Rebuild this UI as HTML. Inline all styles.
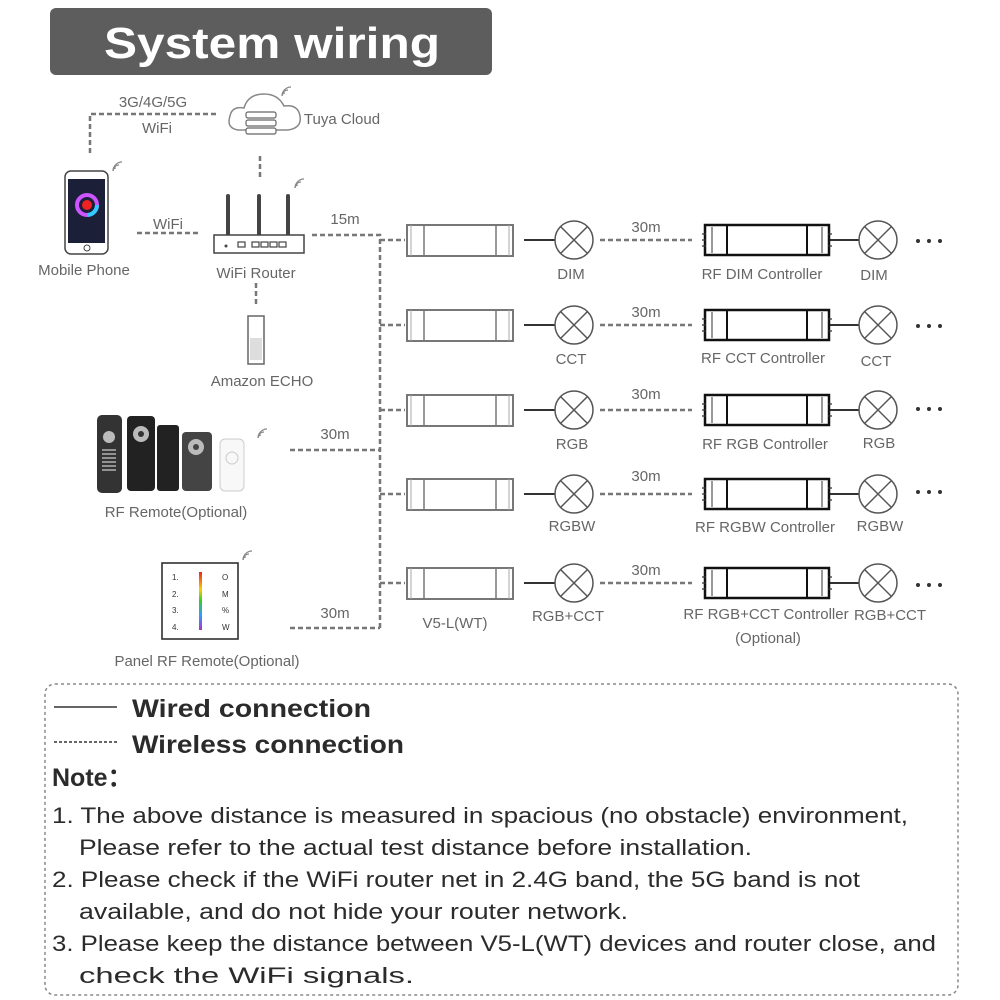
<!DOCTYPE html>
<html><head><meta charset="utf-8"><style>
body{margin:0;background:#fff;width:1000px;height:1000px;overflow:hidden}
svg{display:block}
</style></head><body>
<svg width="1000" height="1000" viewBox="0 0 1000 1000" xmlns="http://www.w3.org/2000/svg" font-family="Liberation Sans, sans-serif">
<defs>
<g id="v5">
 <rect x="0" y="-15" width="106" height="31" fill="#fff" stroke="#777" stroke-width="2"/>
 <line x1="17" y1="-15" x2="17" y2="16" stroke="#777" stroke-width="1.5"/>
 <line x1="89" y1="-15" x2="89" y2="16" stroke="#777" stroke-width="1.5"/>
 <line x1="4" y1="-15" x2="4" y2="16" stroke="#aaa" stroke-width="1"/>
 <line x1="102" y1="-15" x2="102" y2="16" stroke="#aaa" stroke-width="1"/>
</g>
<g id="lamp">
 <circle cx="0" cy="0" r="19" fill="#fff" stroke="#555" stroke-width="1.5"/>
 <line x1="-13" y1="-13" x2="13" y2="13" stroke="#555" stroke-width="1.5"/>
 <line x1="13" y1="-13" x2="-13" y2="13" stroke="#555" stroke-width="1.5"/>
</g>
<g id="rf">
 <rect x="0" y="-15" width="124" height="30" fill="#fff" stroke="#111" stroke-width="2.5"/>
 <line x1="22" y1="-15" x2="22" y2="15" stroke="#111" stroke-width="2"/>
 <line x1="102" y1="-15" x2="102" y2="15" stroke="#111" stroke-width="2"/>
 <line x1="7" y1="-13" x2="7" y2="13" stroke="#333" stroke-width="1"/>
 <line x1="117" y1="-13" x2="117" y2="13" stroke="#333" stroke-width="1"/>
 <path d="M-3 -6 h4 M-3 0 h4 M-3 6 h4 M123 -6 h4 M123 6 h4" stroke="#333" stroke-width="1.2"/>
</g>
<g id="sig" fill="none" stroke="#888" stroke-width="1.2">
 <path d="M0 8 a3 3 0 0 1 3 -3"/><path d="M0 8 a6 6 0 0 1 6 -6"/><path d="M0 8 a9 9 0 0 1 9 -9"/>
</g>
</defs>

<rect x="50" y="8" width="442" height="67" rx="6" fill="#5d5d5d"/>
<text x="104" y="58" textLength="336" lengthAdjust="spacingAndGlyphs" font-size="44" font-weight="bold" fill="#fff">System wiring</text>

<g stroke="#777" stroke-width="2.5" stroke-dasharray="5,3" fill="none">
 <path d="M90 153 V114 H216"/>
 <path d="M260 156 V177"/>
 <path d="M137 233 H199"/>
 <path d="M256 283 V306"/>
 <path d="M312 235 H380 V628"/>
 <path d="M290 450 H380"/>
 <path d="M290 628 H380"/>
 <path d="M380 240 H405 M380 325 H405 M380 410 H405 M380 494 H405 M380 583 H405"/>
 <path d="M600 240 H692 M600 325 H692 M600 410 H692 M600 494 H692 M600 583 H692"/>
</g>

<g font-size="15" fill="#666" text-anchor="middle">
 <text x="153" y="107">3G/4G/5G</text>
 <text x="157" y="133">WiFi</text>
 <text x="342" y="124">Tuya Cloud</text>
 <text x="168" y="229">WiFi</text>
 <text x="345" y="224">15m</text>
 <text x="84" y="275">Mobile Phone</text>
 <text x="256" y="278">WiFi Router</text>
 <text x="262" y="386">Amazon ECHO</text>
 <text x="335" y="439">30m</text>
 <text x="176" y="517">RF Remote(Optional)</text>
 <text x="335" y="618">30m</text>
 <text x="207" y="666">Panel RF Remote(Optional)</text>
 <text x="455" y="628">V5-L(WT)</text>
</g>

<path d="M238 130 q-12 -2 -8 -14 q2 -10 14 -8 q4 -14 20 -14 q14 0 20 12 q14 -2 16 10 q2 12 -12 14 z" fill="#fff" stroke="#888" stroke-width="1.5"/>
<g fill="#fff" stroke="#666" stroke-width="1.2"><rect x="246" y="112" width="30" height="6" rx="2"/><rect x="246" y="120" width="30" height="6" rx="2"/><rect x="246" y="128" width="30" height="6" rx="2"/></g>
<use href="#sig" x="282" y="88"/>

<rect x="65" y="171" width="43" height="83" rx="6" fill="#fff" stroke="#444" stroke-width="1.5"/>
<rect x="68" y="179" width="37" height="64" fill="#1b1f38"/>
<circle cx="87" cy="205" r="10" fill="none" stroke="#c5f" stroke-width="4"/>
<circle cx="87" cy="205" r="10" fill="none" stroke="#3cf" stroke-width="4" stroke-dasharray="15,48"/>
<circle cx="87" cy="205" r="5" fill="#e22"/>
<circle cx="87" cy="248" r="3" fill="none" stroke="#444"/>
<use href="#sig" x="113" y="163"/>

<path d="M228 196 V237 M259 196 V237 M288 196 V237" stroke="#444" stroke-width="4" stroke-linecap="round"/>
<rect x="214" y="235" width="90" height="18" fill="#fff" stroke="#444" stroke-width="1.5"/>
<g fill="#fff" stroke="#444" stroke-width="1.2"><rect x="238" y="242" width="7" height="5"/><rect x="252" y="242" width="7" height="5"/><rect x="261" y="242" width="7" height="5"/><rect x="270" y="242" width="7" height="5"/><rect x="279" y="242" width="7" height="5"/></g>
<circle cx="226" cy="246" r="1.5" fill="#444"/>
<use href="#sig" x="295" y="180"/>

<rect x="248" y="316" width="16" height="48" fill="#fff" stroke="#666" stroke-width="1.5"/>
<rect x="250" y="338" width="12" height="22" fill="#ddd"/>

<rect x="97" y="415" width="25" height="78" rx="5" fill="#333"/><circle cx="109" cy="437" r="6" fill="#bbb"/>
<g stroke="#ccc" stroke-width="1.2"><path d="M102 450 h14 M102 454 h14 M102 458 h14 M102 462 h14 M102 466 h14 M102 470 h14"/></g>
<rect x="127" y="416" width="28" height="75" rx="4" fill="#222"/><circle cx="141" cy="434" r="8" fill="#bbb"/><circle cx="141" cy="434" r="3" fill="#333"/>
<rect x="157" y="425" width="22" height="66" rx="3" fill="#222"/>
<rect x="182" y="432" width="30" height="59" rx="4" fill="#444"/><circle cx="196" cy="447" r="8" fill="#bbb"/><circle cx="196" cy="447" r="3" fill="#444"/>
<rect x="220" y="439" width="24" height="52" rx="5" fill="#f8f8f8" stroke="#ccc"/><circle cx="232" cy="458" r="6" fill="none" stroke="#ccc"/>
<use href="#sig" x="258" y="430"/>

<rect x="162" y="563" width="76" height="76" fill="#fff" stroke="#222" stroke-width="1.5"/>
<defs><linearGradient id="rb" x1="0" y1="0" x2="0" y2="1"><stop offset="0" stop-color="#e22"/><stop offset=".3" stop-color="#fc0"/><stop offset=".5" stop-color="#3c3"/><stop offset=".75" stop-color="#39f"/><stop offset="1" stop-color="#a3c"/></linearGradient></defs>
<rect x="199" y="572" width="3" height="58" fill="url(#rb)"/>
<g font-size="8" fill="#333"><text x="172" y="580">1.</text><text x="172" y="597">2.</text><text x="172" y="613">3.</text><text x="172" y="630">4.</text>
<text x="222" y="580">O</text><text x="222" y="597">M</text><text x="222" y="613">%</text><text x="222" y="630">W</text></g>
<use href="#sig" x="243" y="552"/>

<g>
 <use href="#v5" x="407" y="240"/><use href="#v5" x="407" y="325"/><use href="#v5" x="407" y="410"/><use href="#v5" x="407" y="494"/><use href="#v5" x="407" y="583"/>
 <g stroke="#333" stroke-width="2"><path d="M524 240 H555 M524 325 H555 M524 410 H555 M524 494 H555 M524 583 H555"/>
 <path d="M830 240 H859 M830 325 H859 M830 410 H859 M830 494 H859 M830 583 H859"/></g>
 <use href="#lamp" x="574" y="240"/><use href="#lamp" x="574" y="325"/><use href="#lamp" x="574" y="410"/><use href="#lamp" x="574" y="494"/><use href="#lamp" x="574" y="583"/>
 <use href="#rf" x="705" y="240"/><use href="#rf" x="705" y="325"/><use href="#rf" x="705" y="410"/><use href="#rf" x="705" y="494"/><use href="#rf" x="705" y="583"/>
 <use href="#lamp" x="878" y="240"/><use href="#lamp" x="878" y="325"/><use href="#lamp" x="878" y="410"/><use href="#lamp" x="878" y="494"/><use href="#lamp" x="878" y="583"/>
</g>
<g fill="#333"><g id="dots"><circle cx="918" cy="241" r="2"/><circle cx="929" cy="241" r="2"/><circle cx="940" cy="241" r="2"/></g>
<use href="#dots" y="85"/><use href="#dots" y="168"/><use href="#dots" y="251"/><use href="#dots" y="344"/></g>

<g font-size="15" fill="#666" text-anchor="middle">
 <text x="571" y="279">DIM</text><text x="646" y="232">30m</text><text x="762" y="279">RF DIM Controller</text><text x="874" y="280">DIM</text>
 <text x="571" y="364">CCT</text><text x="646" y="317">30m</text><text x="763" y="363">RF CCT Controller</text><text x="876" y="366">CCT</text>
 <text x="572" y="449">RGB</text><text x="646" y="399">30m</text><text x="765" y="449">RF RGB Controller</text><text x="879" y="448">RGB</text>
 <text x="572" y="531">RGBW</text><text x="646" y="481">30m</text><text x="765" y="532">RF RGBW Controller</text><text x="880" y="531">RGBW</text>
 <text x="568" y="621">RGB+CCT</text><text x="646" y="575">30m</text><text x="766" y="619">RF RGB+CCT Controller</text><text x="890" y="620">RGB+CCT</text>
 <text x="768" y="643">(Optional)</text>
</g>

<rect x="45" y="684" width="913" height="311" rx="10" fill="none" stroke="#888" stroke-width="1.5" stroke-dasharray="3,3"/>
<line x1="54" y1="707" x2="117" y2="707" stroke="#333" stroke-width="1.5"/>
<line x1="54" y1="742" x2="117" y2="742" stroke="#333" stroke-width="1.5" stroke-dasharray="3,2"/>
<g fill="#2b2b2b">
<text x="132" y="717" font-size="25" font-weight="bold" textLength="239" lengthAdjust="spacingAndGlyphs">Wired connection</text>
<text x="132" y="753" font-size="25" font-weight="bold" textLength="272" lengthAdjust="spacingAndGlyphs">Wireless connection</text>
<text x="52" y="786" font-size="25" font-weight="bold">Note：</text>
<g font-size="22">
<text x="52" y="823" textLength="856" lengthAdjust="spacingAndGlyphs">1. The above distance is measured in spacious (no obstacle) environment,</text>
<text x="79" y="855" textLength="673" lengthAdjust="spacingAndGlyphs">Please refer to the actual test distance before installation.</text>
<text x="52" y="887" textLength="808" lengthAdjust="spacingAndGlyphs">2. Please check if the WiFi router net in 2.4G band, the 5G band is not</text>
<text x="79" y="919" textLength="549" lengthAdjust="spacingAndGlyphs">available, and do not hide your router network.</text>
<text x="52" y="951" textLength="884" lengthAdjust="spacingAndGlyphs">3. Please keep the distance between V5-L(WT) devices and router close, and</text>
<text x="79" y="983" textLength="335" lengthAdjust="spacingAndGlyphs">check the WiFi signals.</text>
</g></g>
</svg>
</body></html>
